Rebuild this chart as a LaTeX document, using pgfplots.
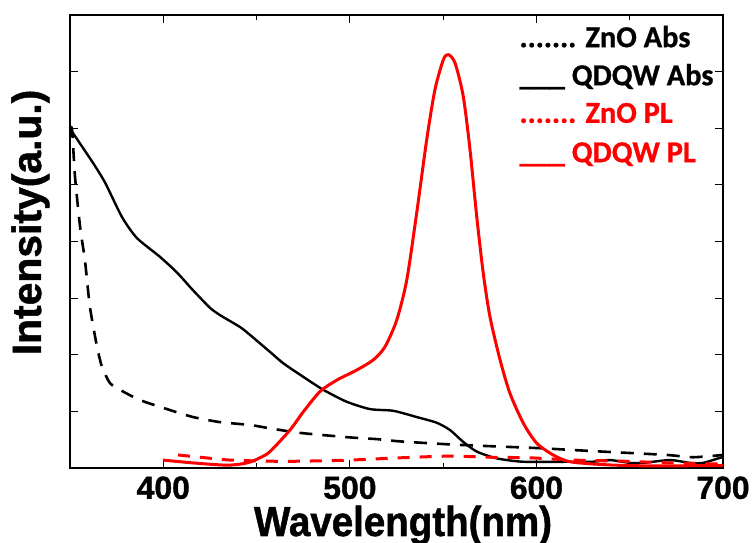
\documentclass[border=0pt]{standalone}
\usepackage{pgfplots}
\pgfplotsset{compat=1.18}
\usepackage{fontspec}
\setmainfont{Liberation Sans}
\newfontfamily\heavy{Liberation Sans Bold}[FakeBold=1.2]
\newfontfamily\legfont{Carlito Bold}[FakeBold=0.8]

\begin{document}
\begin{tikzpicture}
\begin{axis}[
  scale only axis, width=653bp, height=453bp,
  xmin=350, xmax=700, ymin=0, ymax=8,
  xtick={400,500,600,700}, minor x tick num=1,
  ytick={1,2,3,4,5,6,7}, yticklabels={},
  tick align=inside, major tick length=8bp, minor tick length=5bp,
  tick style={black, line width=1.2bp},
  axis line style={line width=1.6bp},
  /pgf/number format/assume math mode=true,
  xticklabel style={font=\heavy\fontsize{32}{36}\selectfont, yshift=-5bp},
  xlabel={\scalebox{0.92}[1]{Wavelength(nm)}},
  xlabel style={font=\heavy\fontsize{42}{46}\selectfont, at={(rel axis cs:0.51,0)}, anchor=base, yshift=-68bp},
  ylabel={Intensity(a.u.)},
  ylabel style={font=\heavy\fontsize{41}{45}\selectfont, at={(rel axis cs:0,0.542)}, anchor=base, yshift=29bp},
  clip=false,
]
% ZnO Abs
\addplot[black, line width=2.6bp, dash pattern=on 13bp off 10bp, smooth, tension=0.4] coordinates {
  (350,6.0) (351.1,5.97) (352.7,5.14) (355.4,4.26) (358.0,3.67) (360.7,2.84)
  (364.5,2.14) (367.2,1.78) (371.4,1.50) (376.8,1.38) (387.5,1.20) (402.0,1.04)
  (415.9,0.90) (430.4,0.81) (446.5,0.76) (457.2,0.70) (473.3,0.62) (500.1,0.54)
  (514.4,0.51) (526.9,0.47) (557.4,0.41) (601.9,0.35) (618.0,0.32) (641.0,0.28)
  (670.0,0.23) (683.9,0.19) (700,0.23)
};
% QDQW Abs
\addplot[black, line width=2.4bp, smooth, tension=0.4] coordinates {
  (350,6.01) (351.1,5.94) (362.3,5.39) (368.8,5.04) (377.9,4.43) (385.9,4.06)
  (398.2,3.73) (407.4,3.45) (415.9,3.14) (425.0,2.83) (430.4,2.70) (441.1,2.49)
  (446.5,2.35) (457.2,2.05) (464.3,1.85) (475.0,1.61) (485.8,1.38) (498.3,1.17)
  (510.8,1.04) (523.3,1.01) (535.8,0.90) (546.5,0.80) (553.7,0.67) (560.8,0.46)
  (568.0,0.29) (578.7,0.17) (593.0,0.11) (618.0,0.11) (630.0,0.11) (639.4,0.14)
  (650.2,0.09) (657.1,0.09) (671.6,0.14) (682.3,0.09) (689.3,0.09) (698.4,0.18)
  (700,0.19)
};
% ZnO PL
\addplot[red, line width=3bp, dash pattern=on 12bp off 10bp, smooth, tension=0.4] coordinates {
  (407.9,0.23) (419.7,0.19) (435.8,0.14) (457.2,0.12) (473.3,0.12) (500.1,0.14)
  (526.9,0.18) (553.7,0.21) (575.1,0.19) (596.6,0.18) (619.6,0.14) (646.4,0.12)
  (671.6,0.09) (698.4,0.07)
};
% QDQW PL
\addplot[red, line width=3bp, smooth, tension=0.45] coordinates {
  (399.8,0.14) (415.9,0.09) (434.2,0.05) (444.9,0.09) (451.8,0.18) (457.2,0.29)
  (467.9,0.67) (475.0,0.99) (484.0,1.35) (492.9,1.55) (503.7,1.73) (512.6,1.91)
  (518.8,2.14) (525.1,2.61) (530.5,3.32) (535.8,4.50) (541.2,5.80) (545.6,6.68)
  (550.1,7.21) (552.8,7.30) (556.4,7.15) (560.8,6.56) (564.4,5.62) (568.0,4.44)
  (571.5,3.44) (575.1,2.67) (580.5,1.91) (585.8,1.32) (593.0,0.79) (600.1,0.44)
  (609.0,0.23) (618.0,0.11) (635.7,0.06) (653.9,0.04) (687.6,0.04) (700,0.04)
};
\node[anchor=base west, font=\legfont\fontsize{30.5}{34}\selectfont, black] at (rel axis cs:0.683,0.929) {....... ZnO Abs};
\node[anchor=base west, font=\legfont\fontsize{30.5}{34}\selectfont, black] at (rel axis cs:0.683,0.845) {\_\_\_ QDQW Abs};
\node[anchor=base west, font=\legfont\fontsize{30.5}{34}\selectfont, red] at (rel axis cs:0.683,0.762) {....... ZnO PL};
\node[anchor=base west, font=\legfont\fontsize{30.5}{34}\selectfont, red] at (rel axis cs:0.683,0.675) {\_\_\_ QDQW PL};
\coordinate (sw) at (rel axis cs:0,0);
\coordinate (ne) at (rel axis cs:1,1);
\end{axis}
\pgfresetboundingbox
\path[use as bounding box] ([xshift=-70bp,yshift=-75bp]sw) rectangle ([xshift=31bp,yshift=15bp]ne);
\end{tikzpicture}
\end{document}
